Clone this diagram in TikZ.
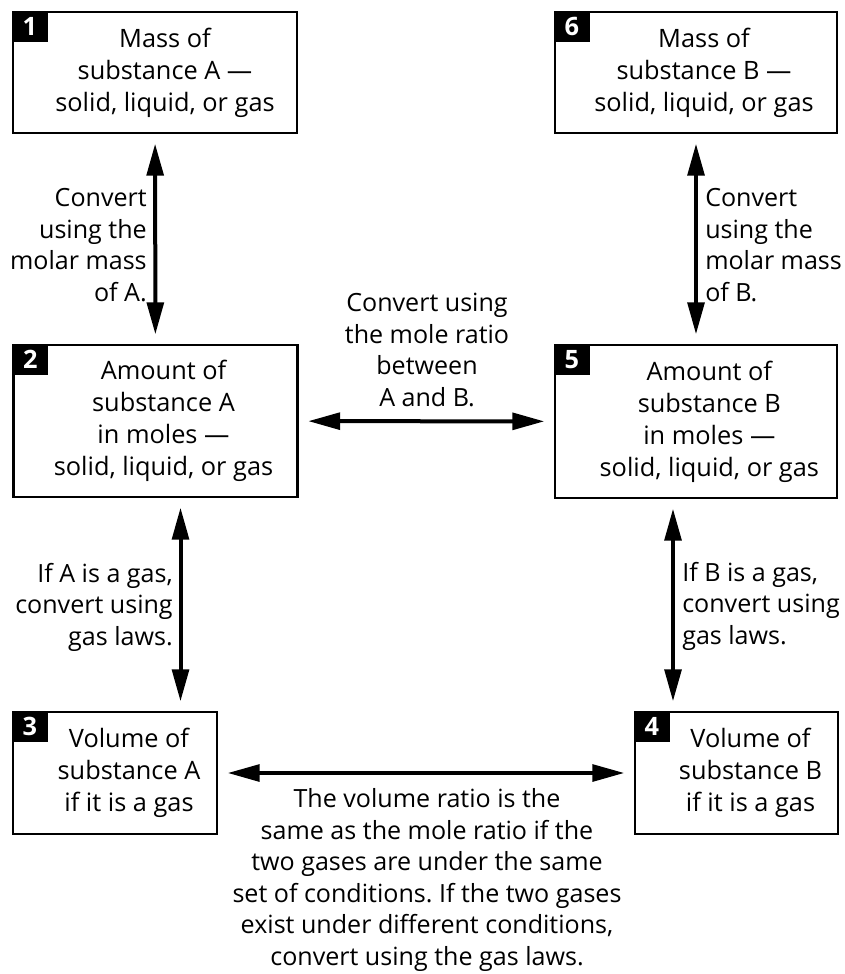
\documentclass[tikz,border=0pt]{standalone}
\usepackage{fontspec}
\setmainfont{Open Sans}
\frenchspacing
\usetikzlibrary{arrows.meta,positioning,calc}

\tikzset{
  stepbox/.style={draw, line width=2pt, inner sep=0pt},
  numtab/.style={fill=black, text=white, anchor=north west, inner sep=0pt,
    minimum width=27pt, minimum height=23.25pt, font=\fontsize{19}{20}\selectfont\bfseries},
  boxtext/.style={align=center, inner sep=0pt, font=\fontsize{19}{24}\selectfont},
  note/.style={inner sep=0pt, font=\fontsize{18.8}{23.6}\selectfont},
  convarrow/.style={<->, line width=3pt, >={Triangle[length=24pt,width=12.5pt]},
    shorten <=7pt, shorten >=7pt}
}

\begin{document}
\begin{tikzpicture}[x=0.75pt, y=-0.75pt]
  \useasboundingbox (0,0) rectangle (844,974);

  % substance A column
  \node[stepbox, minimum width=213pt, minimum height=90.75pt] (b1) at (155,72.5) {};
  \node[numtab] (b1n) at (b1.north west) {1};
  \node[boxtext] (b1t) at ([xshift=7.5pt]b1.center) {Mass of\\substance A —\\solid, liquid, or gas};

  \node[stepbox, minimum width=213pt, minimum height=114pt] (b2) at (155.5,421) {};
  \node[numtab] (b2n) at (b2.north west) {2};
  \node[boxtext] (b2t) at ([xshift=6pt]b2.center) {Amount of\\substance A\\in moles —\\solid, liquid, or gas};

  \node[stepbox, minimum width=153pt, minimum height=91.5pt] (b3) at (115,773) {};
  \node[numtab] (b3n) at (b3.north west) {3};
  \node[boxtext] (b3t) at ([xshift=10.5pt]b3.center) {Volume of\\substance A\\if it is a gas};

  % substance B column
  \node[stepbox, minimum width=152.25pt, minimum height=91.5pt] (b4) at (736.5,773) {};
  \node[numtab] (b4n) at (b4.north west) {4};
  \node[boxtext] (b4t) at ([xshift=10.5pt]b4.center) {Volume of\\substance B\\if it is a gas};

  \node[stepbox, minimum width=211.5pt, minimum height=114.75pt] (b5) at (696,421.5) {};
  \node[numtab] (b5n) at (b5.north west) {5};
  \node[boxtext] (b5t) at ([xshift=10pt]b5.center) {Amount of\\substance B\\in moles —\\solid, liquid, or gas};

  \node[stepbox, minimum width=211.5pt, minimum height=90.75pt] (b6) at (696,72.5) {};
  \node[numtab] (b6n) at (b6.north west) {6};
  \node[boxtext] (b6t) at ([xshift=6pt]b6.center) {Mass of\\substance B —\\solid, liquid, or gas};

  % conversions between the boxes
  \draw[convarrow] (b1) -- (b2);
  \draw[convarrow] (b6) -- (b5);
  \draw[convarrow] (b2) -- (b5);
  \draw[convarrow] (b3) -- (b4);
  \draw[convarrow] ([xshift=18.75pt]b2.south) -- ([xshift=18.75pt]b2.south |- b3.north);
  \draw[convarrow] ([xshift=-17.25pt]b5.south) -- ([xshift=-17.25pt]b5.south |- b4.north);

  % arrow labels
  \node[note, anchor=east, align=right] (molA) at (147,245) {Convert\\using the\\molar mass\\of A.};
  \node[note, anchor=west, align=left] (molB) at (705,245) {Convert\\using the\\molar mass\\of B.};
  \node[note, align=center] (ratio) at (427,350) {Convert using\\the mole ratio\\between\\A and B.};
  \node[note, anchor=east, align=right] (gasA) at (173,607) {If A is a gas,\\convert using\\gas laws.};
  \node[note, anchor=west, align=left] (gasB) at (682,606) {If B is a gas,\\convert using\\gas laws.};
  \node[note, align=center] (vol) at (427,880) {The volume ratio is the\\same as the mole ratio if the\\two gases are under the same\\set of conditions. If the two gases\\exist under different conditions,\\convert using the gas laws.};
\end{tikzpicture}
\end{document}
